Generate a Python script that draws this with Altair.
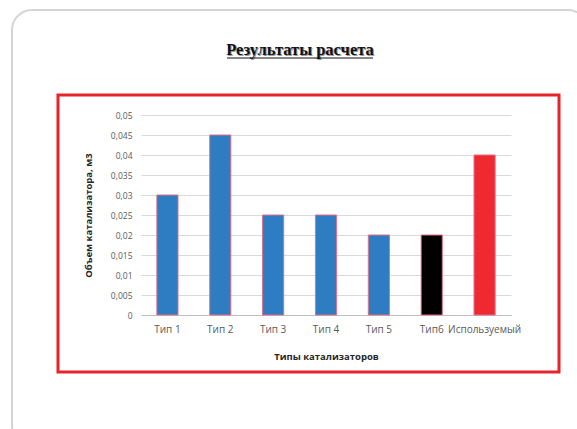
import altair as alt
import pandas as pd

categories = ["Тип 1", "Тип 2", "Тип 3", "Тип 4", "Тип 5", "Тип6", "Используемый"]
volumes = [0.03, 0.045, 0.025, 0.025, 0.02, 0.02, 0.04]
bar_colors = ["#2E7DC2", "#2E7DC2", "#2E7DC2", "#2E7DC2", "#2E7DC2", "#000000", "#EE2A30"]
y_ticks = [0, 0.005, 0.01, 0.015, 0.02, 0.025, 0.03, 0.035, 0.04, 0.045, 0.05]
title_text = "Результаты расчета"
x_title = "Типы катализаторов"
y_title = "Объем катализатора, м3"

df = pd.DataFrame({"cat": categories, "vol": volumes})
one = alt.Data(values=[{"a": 1}])

W, H = 370, 200
LEFT, TOP = 141, 115

outer_box = alt.Chart(one).mark_rect(
    filled=False, color="#d4d4d4", strokeWidth=2, cornerRadius=20
).encode(
    x=alt.value(12 - LEFT), x2=alt.value(588 - LEFT),
    y=alt.value(10 - TOP), y2=alt.value(445 - TOP),
)

red_box = alt.Chart(one).mark_rect(
    filled=False, color="#E8232A", strokeWidth=3
).encode(
    x=alt.value(58 - LEFT), x2=alt.value(559 - LEFT),
    y=alt.value(95 - TOP), y2=alt.value(372 - TOP),
)

title_shadow = alt.Chart(one).mark_text(
    text=title_text, font="Liberation Serif", fontSize=16.5, fontWeight="bold",
    color="#9a9a9a", align="center", baseline="alphabetic"
).encode(x=alt.value(300 - LEFT + 1), y=alt.value(55 - TOP + 1))

title_main = alt.Chart(one).mark_text(
    text=title_text, font="Liberation Serif", fontSize=16.5, fontWeight="bold",
    color="#111111", align="center", baseline="alphabetic"
).encode(x=alt.value(300 - LEFT), y=alt.value(55 - TOP))

underline = alt.Chart(one).mark_rule(color="#111111", strokeWidth=1.2).encode(
    x=alt.value(227 - LEFT), x2=alt.value(373 - LEFT),
    y=alt.value(58 - TOP),
)

bars = alt.Chart(df).mark_bar(stroke="#E07088", strokeWidth=1).encode(
    x=alt.X(
        "cat:N", sort=categories,
        scale=alt.Scale(paddingInner=0.6, paddingOuter=0.3),
        axis=alt.Axis(
            title=x_title, labelAngle=0, ticks=False, labelPadding=9,
            labelFont="Open Sans", labelFontSize=10, labelColor="#595959",
            titleFont="Open Sans", titleFontSize=9.5, titleFontWeight="bold",
            titleColor="#262626", titlePadding=17,
            domainColor="#bfbfbf", grid=False,
        ),
    ),
    y=alt.Y(
        "vol:Q",
        scale=alt.Scale(domain=[0, 0.05], nice=False),
        axis=alt.Axis(
            values=y_ticks, title=y_title, domain=False, ticks=False,
            labelExpr="replace(toString(datum.value), '.', ',')",
            labelPadding=9, labelFont="Open Sans", labelFontSize=8.5,
            labelColor="#595959",
            titleFont="Open Sans", titleFontSize=9.5, titleFontWeight="bold",
            titleColor="#262626", titlePadding=17,
            gridColor="#d9d9d9", gridWidth=1,
        ),
    ),
    color=alt.Color(
        "cat:N", scale=alt.Scale(domain=categories, range=bar_colors), legend=None
    ),
)

chart = alt.layer(
    outer_box, red_box, title_shadow, title_main, underline, bars
).properties(
    width=W, height=H,
    autosize=alt.AutoSizeParams(type="none"),
    padding={"left": LEFT, "top": TOP, "right": 577 - LEFT - W, "bottom": 429 - TOP - H},
    background="white",
).configure_view(stroke=None)

chart.save("out.html", embed_options={"renderer": "svg", "actions": False})
